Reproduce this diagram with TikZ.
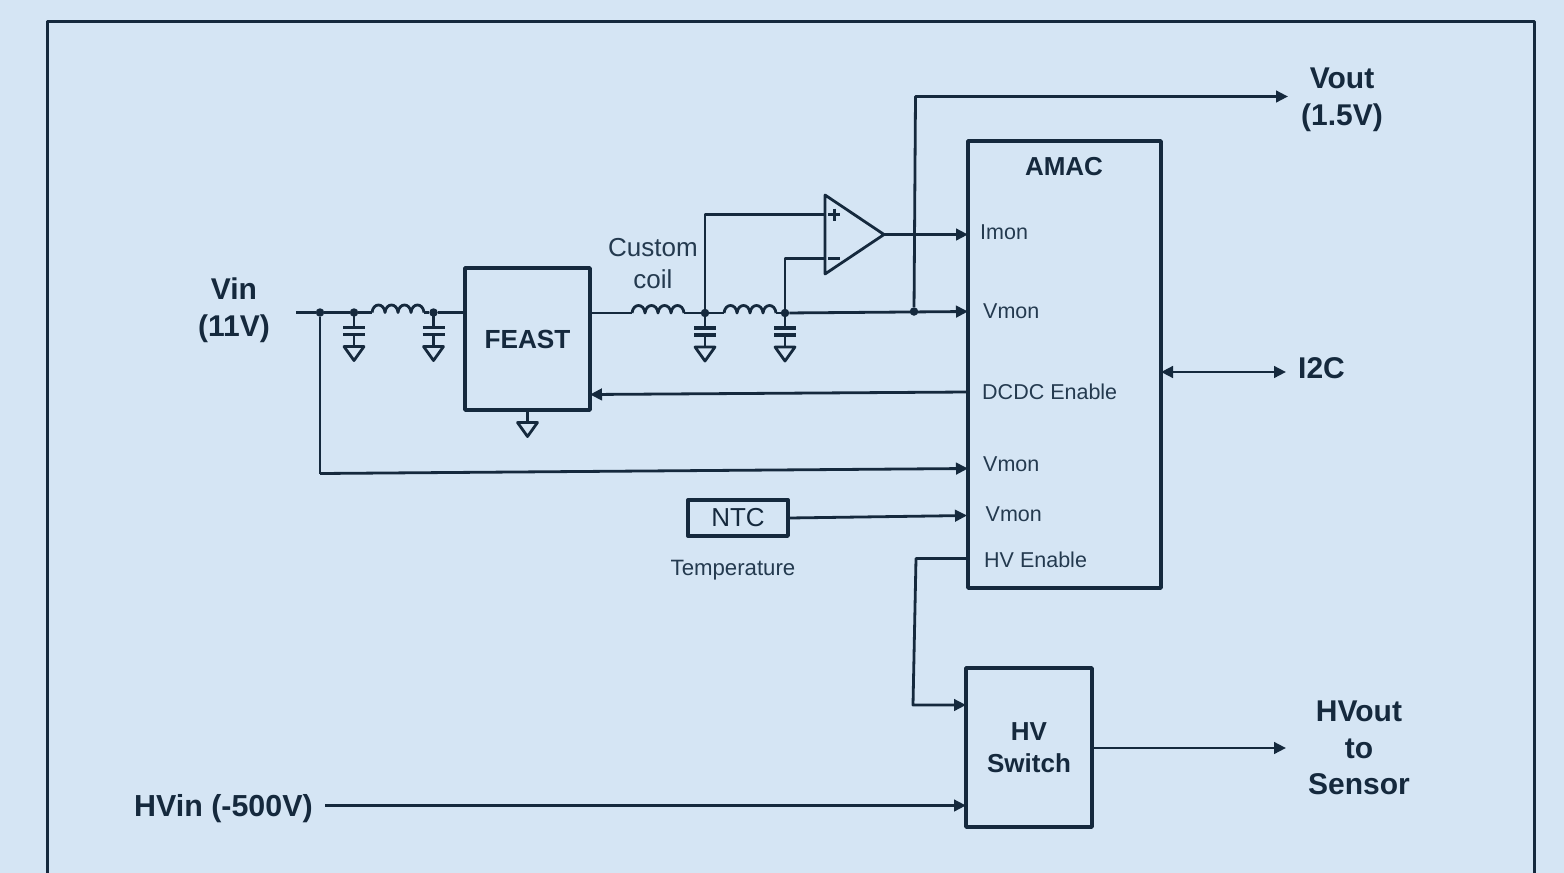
\documentclass[tikz,border=0pt]{standalone}
\usepackage{fontspec}
\setmainfont{Liberation Sans}
\usetikzlibrary{arrows.meta}
\definecolor{ink}{HTML}{15293D}
\definecolor{inksoft}{HTML}{243A4F}
\definecolor{paper}{HTML}{D5E5F4}
\newcommand{\fsz}[1]{\fontsize{#1}{#1}\selectfont}
\tikzset{
  wire/.style={draw=ink,line width=2.8pt,line join=round},
  arrowwire/.style={wire,-{Triangle[length=12pt,width=11.5pt]}},
  biwire/.style={wire,{Triangle[length=12pt,width=11.5pt]}-{Triangle[length=12pt,width=11.5pt]}},
  block/.style={draw=ink,line width=3.6pt,rectangle,inner sep=0pt,text=ink,align=center,line join=round},
  dot/.style={circle,fill=ink,inner sep=0pt,minimum size=8.5pt},
  big/.style={inner sep=0pt,text=ink,align=center,font=\fsz{30}\bfseries},
  small/.style={inner sep=0pt,text=inksoft,anchor=west,font=\fsz{21.5}},
  capgnd/.pic={
    \draw[wire] (0,0) -- (0,15);
    \draw[wire,line width=3.2pt] (-11,15) -- (11,15);
    \draw[wire,line width=3.2pt] (-11,22) -- (11,22);
    \draw[wire] (0,22) -- (0,34);
    \draw[wire] (-10,34) -- (10,34) -- (0,48) -- cycle;
  },
  coil/.pic={
    \draw[wire] (0,0) .. controls (1,-10) and (12,-10) .. (13,0)
      .. controls (14,-10) and (25,-10) .. (26,0)
      .. controls (27,-10) and (38,-10) .. (39,0)
      .. controls (40,-10) and (51,-10) .. (52,0);
  }
}
\begin{document}
\begin{tikzpicture}[x=1pt,y=-1pt]
\useasboundingbox (0,0) rectangle (1564,873);
\fill[paper] (0,0) rectangle (1564,873);
\coordinate (fa) at (47,873);
\coordinate (fb) at (47,21);
\coordinate (fc) at (1534,21);
\coordinate (fd) at (1534,873);
\draw[draw=ink,line width=3pt,line join=round] (fa) -- (fb) -- (fc) -- (fd);

% blocks
\node[block,minimum width=125pt,minimum height=142pt,font=\fsz{26.2}\bfseries] (feast) at (527.5,339) {\raisebox{-2pt}{FEAST}};
\node[block,minimum width=193pt,minimum height=447pt] (amac) at (1064.5,364.5) {};
\node[block,minimum width=126pt,minimum height=159pt,font=\fsz{26}\bfseries] (hvsw) at (1029,747.5) {HV\\[6pt]Switch};
\node[block,line width=3.4pt,minimum width=100pt,minimum height=36pt,font=\fsz{26}] (ntc) at (738,518) {NTC};

% labels
\node[big] (vin) at (234,310) {Vin\\[7pt](11V)};
\node[big] (vout) at (1342,100) {Vout\\[7pt](1.5V)};
\node[big] (i2c) at (1321.5,368.5) {I2C};
\node[big] (hvout) at (1359,748) {HVout\\[6.5pt]to\\[6.5pt]Sensor};
\node[big,anchor=west,font=\fsz{30.4}\bfseries] (hvin) at (134,809) {HVin (-500V)};
\node[inner sep=0pt,text=ink,font=\fsz{26}\bfseries] (amactitle) at (1064,167) {AMAC};
\node[inner sep=0pt,text=inksoft,align=center,font=\fsz{26}] (customcoil) at (653,264) {Custom\\[6pt]coil};
\node[small] (limon) at (980,232) {Imon};
\node[small] (lvmon1) at (983,311.5) {Vmon};
\node[small] (ldcdc) at (982,392) {DCDC Enable};
\node[small] (lvmon2) at (983,464.5) {Vmon};
\node[small] (lvmon3) at (985.5,514) {Vmon};
\node[small] (lhven) at (984,560) {HV Enable};
\node[inner sep=0pt,text=inksoft,font=\fsz{22.2}] (ltemp) at (733,570) {Temperature};

% junctions
\node[dot] (j1) at (320,312.5) {};
\node[dot] (j2) at (354,312.5) {};
\node[dot] (j3) at (433.5,312.5) {};
\node[dot] (j4) at (705,313) {};
\node[dot] (j5) at (785,313) {};
\node[dot] (j6) at (914,311.5) {};

% coordinates
\coordinate (vinstart) at (296,312.5);
\coordinate (l1a) at (372,312.5);
\coordinate (l1b) at (424,312.5);
\coordinate (feastin) at (463,312.5);
\coordinate (feastout) at (592,313);
\coordinate (l2a) at (632,313);
\coordinate (l2b) at (684,313);
\coordinate (l3a) at (724,313);
\coordinate (l3b) at (776,313);
\coordinate (amacimon) at (968,234.5);
\coordinate (amacvmon) at (968,311.5);
\coordinate (amacdcdc) at (967,392);
\coordinate (feastdcdc) at (590,394.5);
\coordinate (vincorner) at (320,473.5);
\coordinate (amacvmontwo) at (968,468.5);
\coordinate (ntcout) at (789,518);
\coordinate (amacntc) at (967,515.5);
\coordinate (amachv) at (967,558.5);
\coordinate (hvc1) at (916,558.5);
\coordinate (hvc2) at (913,705);
\coordinate (hvswin) at (966,705);
\coordinate (hvinstart) at (325,805.5);
\coordinate (hvswb) at (966,805.5);
\coordinate (voutc) at (915.5,96.5);
\coordinate (voutend) at (1288,96.5);
\coordinate (amacright) at (1161,372);
\coordinate (i2cend) at (1286,372);
\coordinate (hvswout) at (1093,748);
\coordinate (hvoutend) at (1286,748);
\coordinate (fgnd) at (527.5,410);
\coordinate (fgndb) at (527.5,422.5);
\coordinate (plusc) at (705,214.5);
\coordinate (plusin) at (825,214.5);
\coordinate (minusc) at (785,258.5);
\coordinate (minusin) at (825,258.5);
\coordinate (oa) at (825,195);
\coordinate (ob) at (884,234.5);
\coordinate (oc) at (825,274);
\coordinate (pa) at (828,214.5);
\coordinate (pb) at (840,214.5);
\coordinate (pc) at (834.5,208.5);
\coordinate (pd) at (834.5,220.5);
\coordinate (ma) at (828,258.5);
\coordinate (mb) at (840,258.5);
\coordinate (ga) at (517.5,422.5);
\coordinate (gb) at (537.5,422.5);
\coordinate (gc) at (527.5,436.5);

% op amp
\draw[wire] (oa) -- (ob) -- (oc) -- cycle;
\draw[wire] (pa) -- (pb) (pc) -- (pd);
\draw[wire] (ma) -- (mb);

% coils and caps
\pic at (l1a) {coil};
\pic at (l2a) {coil};
\pic at (l3a) {coil};
\pic at (j2) {capgnd};
\pic at (j3) {capgnd};
\pic at (j4) {capgnd};
\pic at (j5) {capgnd};
\draw[wire] (fgnd) -- (fgndb);
\draw[wire] (ga) -- (gb) -- (gc) -- cycle;

% connectors
\draw[wire] (vinstart) -- (j1) -- (j2) -- (l1a);
\draw[wire] (l1b) -- (j3) -- (feastin);
\draw[wire] (feastout) -- (l2a);
\draw[wire] (l2b) -- (j4) -- (l3a);
\draw[wire] (l3b) -- (j5);
\draw[arrowwire] (j5) -- (amacvmon);
\draw[wire] (j4) -- (plusc) -- (plusin);
\draw[wire] (j5) -- (minusc) -- (minusin);
\draw[arrowwire] (ob) -- (amacimon);
\draw[arrowwire] (j6) -- (voutc) -- (voutend);
\draw[arrowwire] (amacdcdc) -- (feastdcdc);
\draw[wire] (j1) -- (vincorner);
\draw[arrowwire] (vincorner) -- (amacvmontwo);
\draw[arrowwire] (ntcout) -- (amacntc);
\draw[arrowwire] (amachv) -- (hvc1) -- (hvc2) -- (hvswin);
\draw[arrowwire] (hvinstart) -- (hvswb);
\draw[biwire] (amacright) -- (i2cend);
\draw[arrowwire] (hvswout) -- (hvoutend);
\end{tikzpicture}
\end{document}
